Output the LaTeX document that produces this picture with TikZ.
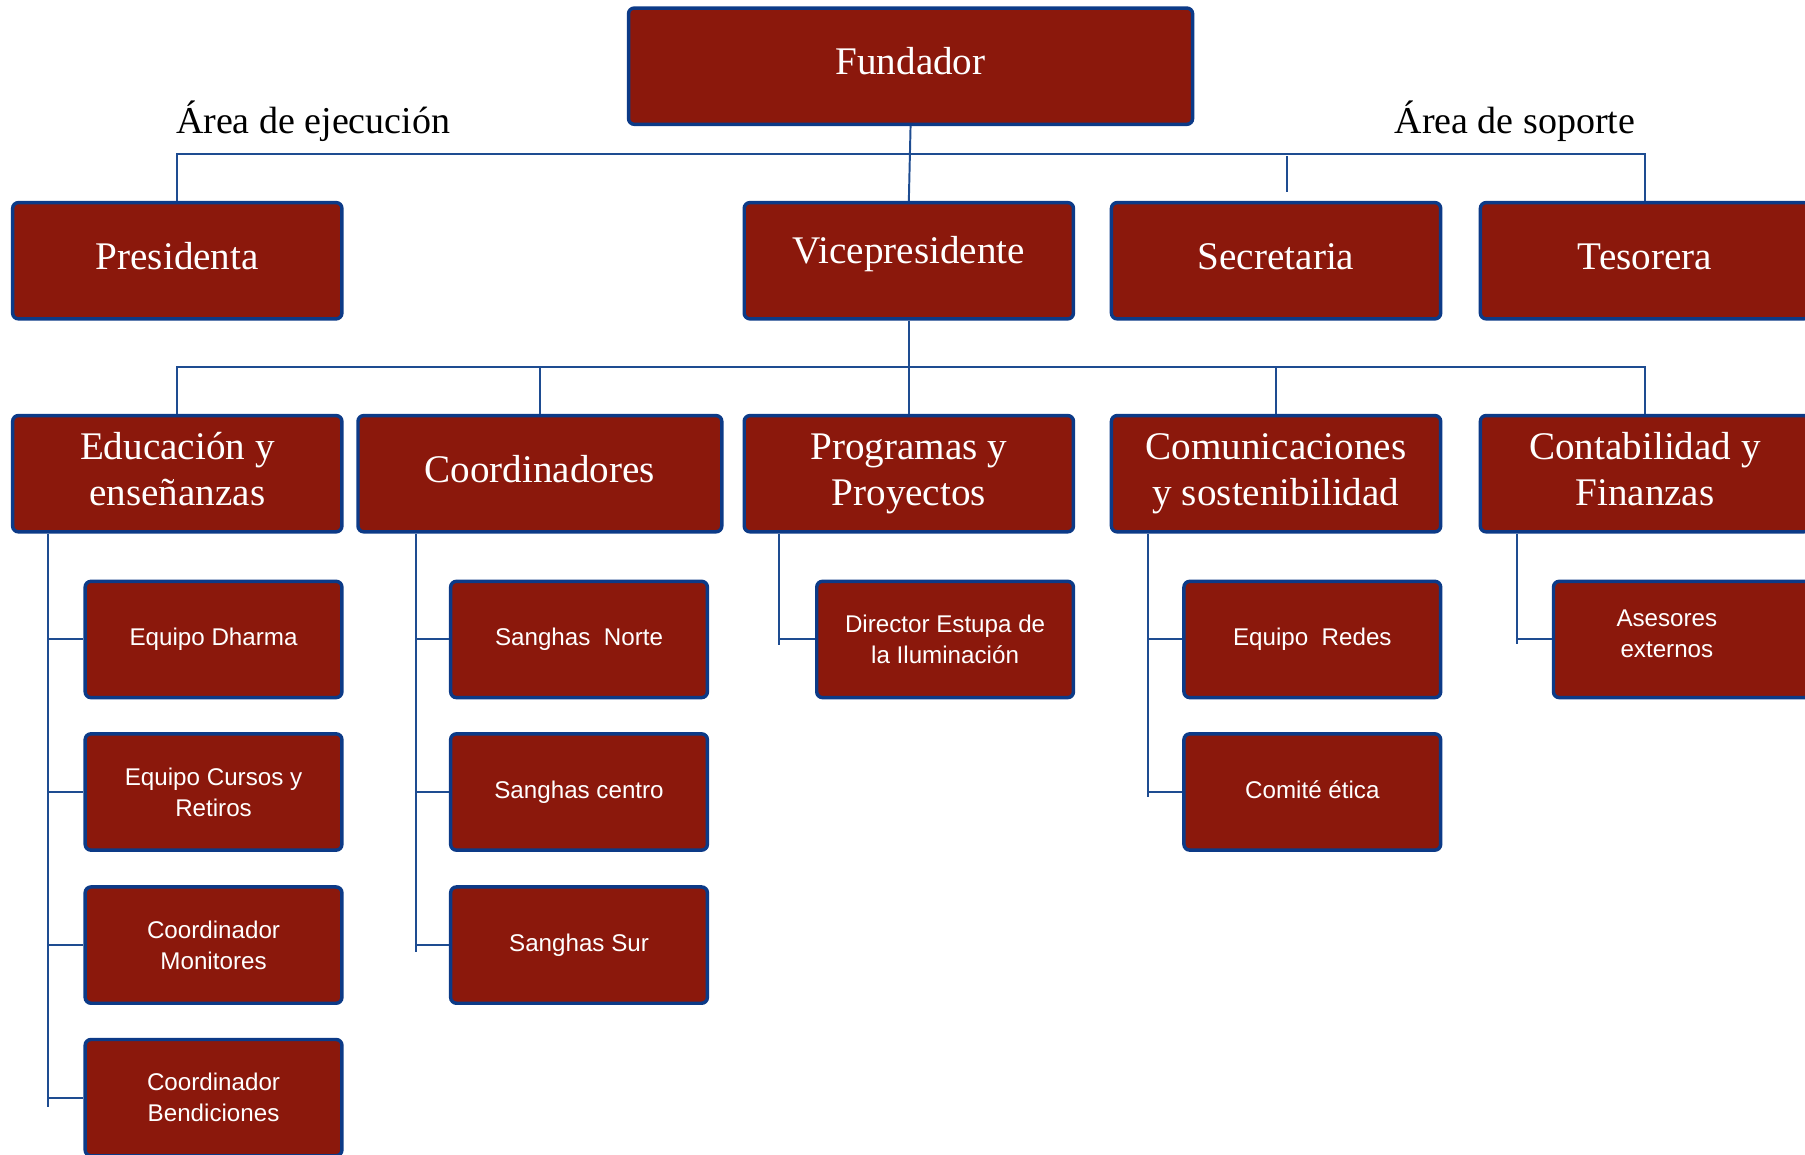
\documentclass[tikz,border=0pt]{standalone}
\usepackage{fontspec}
\setmainfont{Liberation Serif}
\newfontfamily\subfont{Liberation Sans}
\definecolor{boxred}{RGB}{139,24,12}
\definecolor{boxblue}{RGB}{12,58,135}
\definecolor{linkblue}{RGB}{30,76,145}
\begin{document}
\begin{tikzpicture}[x=1pt,y=-1pt,
  box/.style={draw=boxblue, line width=3pt, fill=boxred, rounded corners=5pt,
    text=white, inner sep=0pt, align=center, minimum height=101pt},
  mainbox/.style={box, font=\fontsize{34}{40}\selectfont, minimum width=286pt,
    text height=23.8pt, text depth=8.8pt},
  twoline/.style={text height=63.8pt, text depth=8.8pt},
  subbox/.style={box, font=\subfont\fontsize{21}{27}\selectfont, minimum width=223pt},
  subtext/.style={text=white, align=center, inner sep=0pt, font=\subfont\fontsize{21}{27}\selectfont},
  link/.style={draw=linkblue, line width=1.7pt},
  area/.style={font=\fontsize{33}{38}\selectfont, text=black, anchor=base, inner sep=0pt}]

\useasboundingbox (0,0) rectangle (1568,1003);
\clip (0,0) rectangle (1568,1003);

% top
\node[mainbox, minimum width=490pt] (fund) at (791,57.5) {Fundador};
\node[area] (ejec) at (272,116) {Área de ejecución};
\node[area] (sopo) at (1316,116) {Área de soporte};

% row 2
\node[mainbox] (pres) at (154,226.5) {Presidenta};
\node[mainbox] (vice) at (789.5,226.5) {\raisebox{5pt}{Vicepresidente}};
\node[mainbox] (secr) at (1108.5,226.5) {Secretaria};
\node[mainbox] (teso) at (1429,226.5) {Tesorera};

% row 3
\node[mainbox, twoline] (edu) at (154,411.5) {Educación y\\enseñanzas};
\node[mainbox, minimum width=316pt] (coord) at (469,411.5) {Coordinadores};
\node[mainbox, twoline] (prog) at (789.5,411.5) {Programas y\\Proyectos};
\node[mainbox, twoline] (comu) at (1108.5,411.5) {Comunicaciones\\y sostenibilidad};
\node[mainbox, twoline] (conta) at (1429,411.5) {Contabilidad y\\Finanzas};

% sub boxes
\node[subbox] (eq1) at (185.5,555.5) {Equipo Dharma};
\node[subbox] (eq2) at (185.5,688) {Equipo Cursos y\\Retiros};
\node[subbox] (eq3) at (185.5,821) {Coordinador\\Monitores};
\node[subbox] (eq4) at (185.5,953.5) {Coordinador\\Bendiciones};

\node[subbox] (co1) at (503,555.5) {Sanghas\ \ Norte};
\node[subbox] (co2) at (503,688) {Sanghas centro};
\node[subbox] (co3) at (503,821) {Sanghas Sur};

\node[subbox] (pr1) at (821,555.5) {Director Estupa de\\la Iluminación};

\node[subbox] (cm1) at (1140,555.5) {Equipo\ \ Redes};
\node[subbox] (cm2) at (1140,688) {\raisebox{4pt}{Comité ética}};

\node[subbox] (ct1) at (1461,555.5) {};
\node[subtext] (ct1t) at (1448,550.5) {Asesores\\externos};

% connectors level 1
\draw[link] (fund.south) -- (vice.north);
\draw[link] (pres.north) -- ++(0,-41) -| (teso.north);
\draw[link] ([shift={(9.5,-8)}]secr.north) -- ++(0,-31);

% connectors level 2
\draw[link] (vice.south) -- (prog.north);
\draw[link] (edu.north) -- ++(0,-41) -| (conta.north);
\draw[link] (coord.north) -- ++(0,-41);
\draw[link] (comu.north) -- ++(0,-41);

% sub connectors
\coordinate (et) at ([xshift=32pt]edu.south west);
\draw[link] (et) -- (et |- eq4.west) -- ++(0,8);
\foreach \n in {eq1,eq2,eq3,eq4} \draw[link] (et |- \n.west) -- (\n.west);

\coordinate (ct) at ([xshift=52pt]coord.south west);
\draw[link] (ct) -- (ct |- co3.west) -- ++(0,6);
\foreach \n in {co1,co2,co3} \draw[link] (ct |- \n.west) -- (\n.west);

\coordinate (pt) at ([xshift=32pt]prog.south west);
\draw[link] (pt) -- (pt |- pr1.west) -- ++(0,5);
\draw[link] (pt |- pr1.west) -- (pr1.west);

\coordinate (mt) at ([xshift=33pt]comu.south west);
\draw[link] (mt) -- (mt |- cm2.west) -- ++(0,4);
\foreach \n in {cm1,cm2} \draw[link] (mt |- \n.west) -- (\n.west);

\coordinate (kt) at ([xshift=33pt]conta.south west);
\draw[link] (kt) -- (kt |- ct1.west) -- ++(0,4);
\draw[link] (kt |- ct1.west) -- (ct1.west);
\end{tikzpicture}
\end{document}
